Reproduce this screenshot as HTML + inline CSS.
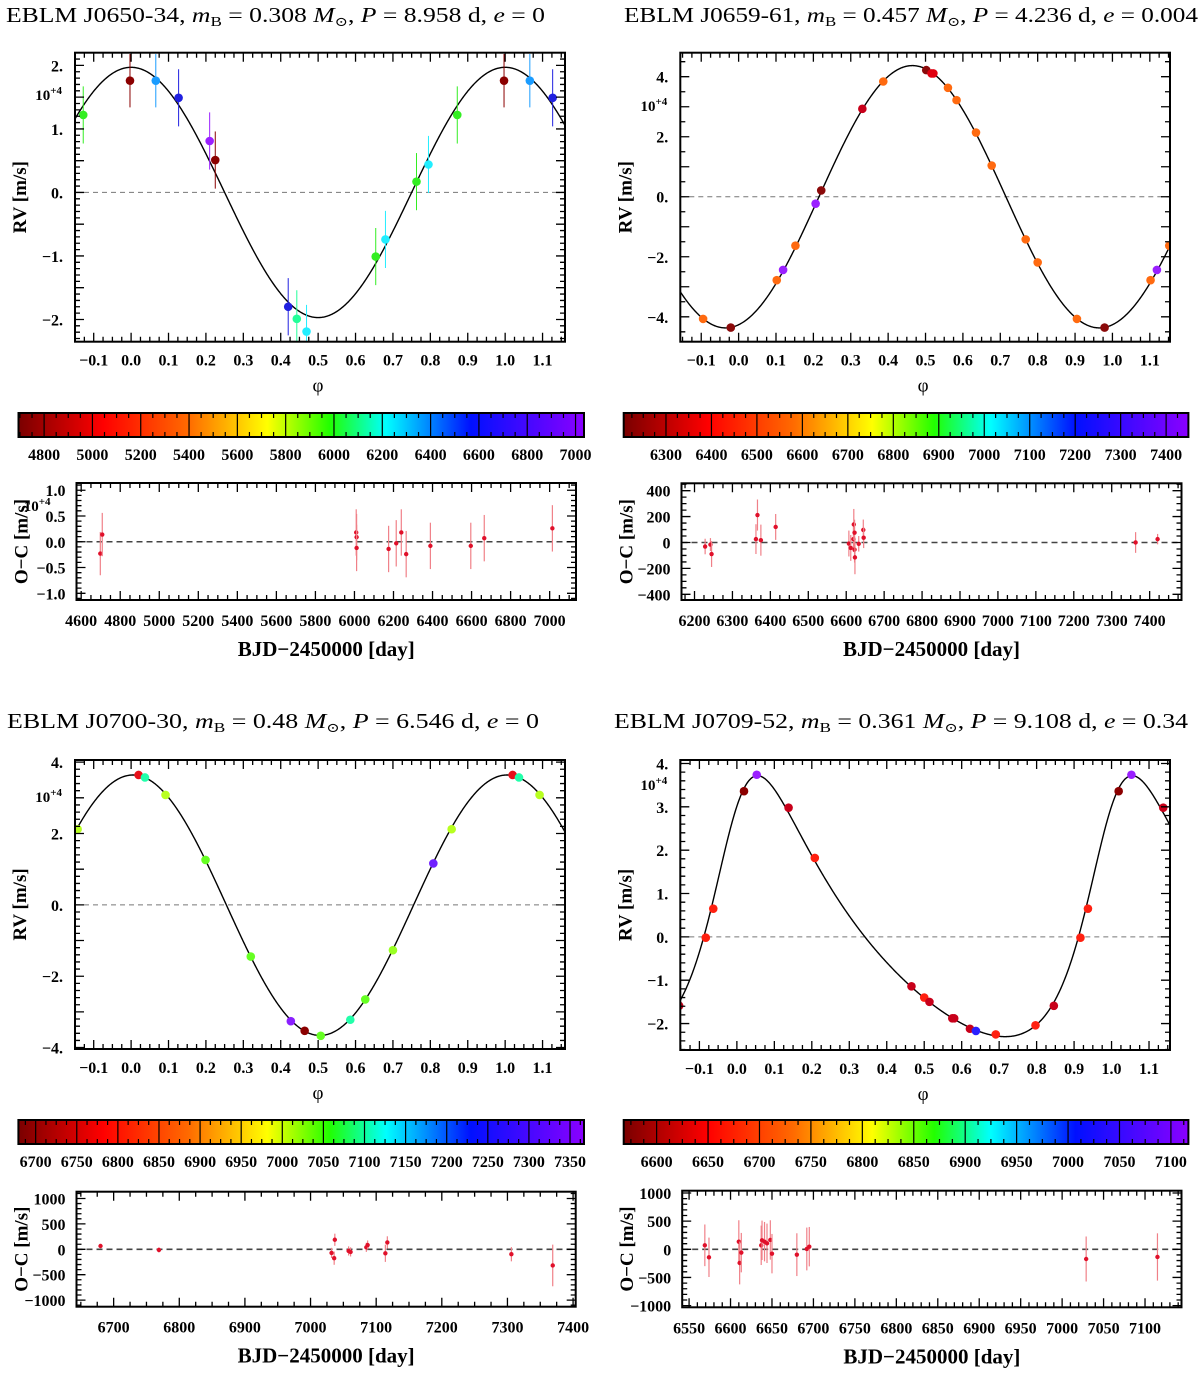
<!DOCTYPE html>
<html><head><meta charset="utf-8">
<style>
html,body{margin:0;padding:0;background:#fff;}
svg{display:block;font-family:"Liberation Serif","DejaVu Serif",serif;}
text{font-family:"Liberation Serif","DejaVu Serif",serif;}
</style></head>
<body>
<svg id="fig" width="1200" height="1374" viewBox="0 0 1200 1374" xmlns="http://www.w3.org/2000/svg">
<defs>
<linearGradient id="cmap" x1="0" x2="1" y1="0" y2="0">
<stop offset="0" stop-color="#7a0000"/><stop offset="0.15" stop-color="#ff0000"/><stop offset="0.3" stop-color="#ff6a00"/><stop offset="0.44" stop-color="#ffff00"/><stop offset="0.55" stop-color="#22ff00"/><stop offset="0.65" stop-color="#00ffff"/><stop offset="0.8" stop-color="#0010ff"/><stop offset="1" stop-color="#8a00ff"/>
</linearGradient>
</defs>
<text x="6" y="22" font-size="21" textLength="539" lengthAdjust="spacingAndGlyphs">EBLM J0650-34, <tspan font-style="italic">m</tspan><tspan dy="4" font-size="14">B</tspan><tspan dy="-4"> = 0.308 </tspan><tspan font-style="italic">M</tspan><tspan dy="4" font-size="13">⊙</tspan><tspan dy="-4">, </tspan><tspan font-style="italic">P</tspan> = 8.958 d, <tspan font-style="italic">e</tspan> = 0</text>
<text x="624" y="22" font-size="21" textLength="574" lengthAdjust="spacingAndGlyphs">EBLM J0659-61, <tspan font-style="italic">m</tspan><tspan dy="4" font-size="14">B</tspan><tspan dy="-4"> = 0.457 </tspan><tspan font-style="italic">M</tspan><tspan dy="4" font-size="13">⊙</tspan><tspan dy="-4">, </tspan><tspan font-style="italic">P</tspan> = 4.236 d, <tspan font-style="italic">e</tspan> = 0.004</text>
<text x="7" y="728" font-size="21" textLength="532" lengthAdjust="spacingAndGlyphs">EBLM J0700-30, <tspan font-style="italic">m</tspan><tspan dy="4" font-size="14">B</tspan><tspan dy="-4"> = 0.48 </tspan><tspan font-style="italic">M</tspan><tspan dy="4" font-size="13">⊙</tspan><tspan dy="-4">, </tspan><tspan font-style="italic">P</tspan> = 6.546 d, <tspan font-style="italic">e</tspan> = 0</text>
<text x="614" y="728" font-size="21" textLength="574" lengthAdjust="spacingAndGlyphs">EBLM J0709-52, <tspan font-style="italic">m</tspan><tspan dy="4" font-size="14">B</tspan><tspan dy="-4"> = 0.361 </tspan><tspan font-style="italic">M</tspan><tspan dy="4" font-size="13">⊙</tspan><tspan dy="-4">, </tspan><tspan font-style="italic">P</tspan> = 9.108 d, <tspan font-style="italic">e</tspan> = 0.34</text>
</svg>
<script>
// ---------- data ----------
const phaseTicks = [-0.1,0,0.1,0.2,0.3,0.4,0.5,0.6,0.7,0.8,0.9,1.0,1.1];
const phaseLabels = ['−0.1','0.0','0.1','0.2','0.3','0.4','0.5','0.6','0.7','0.8','0.9','1.0','1.1'];

const p1Phase = [0.997,0.066,0.127,0.21,0.225,0.42,0.443,0.469,0.654,0.68,0.763,0.795,0.872];
const p1RV    = [1.76,1.76,1.49,0.81,0.51,-1.80,-1.99,-2.19,-1.01,-0.74,0.17,0.44,1.22];
const p1Err   = [0.42,0.42,0.45,0.45,0.45,0.45,0.45,0.42,0.45,0.45,0.45,0.45,0.45];
const p1Color = ['#8b0000','#1a9cff','#2020e0','#9a20ff','#8b0000','#2020e0','#22ff99','#22eeff','#33ee22','#22eeff','#33ee22','#22eeff','#33ee22'];
const p1Model = [1.97, 0.0, 0.0];
const p1YTicks = [2,1,0,-1,-2];
const p1YLabels = ['2.','1.','0.','−1.','−2.'];

const p2Phase = [0.905,0.979,0.102,0.119,0.152,0.206,0.221,0.331,0.387,0.502,0.516,0.521,0.56,0.583,0.635,0.677,0.768,0.8];
const p2RV    = [-4.07,-4.36,-2.78,-2.44,-1.63,-0.23,0.21,2.93,3.84,4.22,4.11,4.11,3.63,3.22,2.14,1.04,-1.42,-2.19];
const p2Err   = [0.05,0.05,0.05,0.05,0.05,0.05,0.05,0.05,0.05,0.05,0.05,0.05,0.05,0.05,0.05,0.05,0.05,0.05];
const p2Color = ['#ff6a10','#8b0a0a','#ff6a10','#9a20ff','#ff6a10','#9a20ff','#8b0a0a','#c8001a','#ff6a10','#8b0a0a','#e00010','#e00010','#ff6a10','#ff6a10','#ff6a10','#ff6a10','#ff6a10','#ff6a10'];
const p2Model = [4.37, 0.465, 0.0];
const p2YTicks = [4,2,0,-2,-4];
const p2YLabels = ['4.','2.','0.','−2.','−4.'];

const p3Phase = [0.020,0.037,0.092,0.199,0.320,0.427,0.464,0.507,0.586,0.626,0.700,0.808,0.857];
const p3RV    = [3.64,3.57,3.08,1.26,-1.45,-3.26,-3.53,-3.67,-3.22,-2.65,-1.27,1.16,2.12];
const p3Err   = [0.05,0.05,0.05,0.05,0.05,0.05,0.05,0.05,0.05,0.05,0.05,0.05,0.05];
const p3Color = ['#e8101a','#22ffaa','#b8ff20','#66ff22','#66ff22','#8a20ff','#8b0000','#66ff22','#22ffaa','#66ff22','#99ff22','#7020ff','#b8ff20'];
const p3Model = [3.65, 0.005, -0.01];
const p3YTicks = [4,2,0,-2,-4];
const p3YLabels = ['4.','2.','0.','−2.','−4.'];

const p4Phase = [0.019,0.053,0.138,0.208,0.466,0.500,0.514,0.575,0.580,0.622,0.638,0.691,0.797,0.846,0.917,0.937];
const p4RV    = [3.36,3.74,2.98,1.82,-1.14,-1.40,-1.50,-1.88,-1.88,-2.12,-2.17,-2.25,-2.04,-1.59,-0.02,0.65];
const p4Err   = [0.05,0.05,0.05,0.05,0.05,0.05,0.05,0.05,0.05,0.05,0.05,0.05,0.05,0.05,0.05,0.05];
const p4Color = ['#8b0000','#9a20ff','#c8001a','#ff2010','#c8001a','#ff2010','#c8001a','#c8001a','#c8001a','#c8001a','#2a20ff','#ff2010','#ff2010','#c8001a','#ff2010','#ff2010'];
const p4Kep = [3.01, 0.34, 313, -0.009, 0.01];
const p4YTicks = [4,3,2,1,0,-1,-2];
const p4YLabels = ['4.','3.','2.','1.','0.','−1.','−2.'];

const oc1Day = [4698,4708,6009,6011,6011,6175,6214,6240,6265,6389,6596,6665,7014];
const oc1Val = [-0.23,0.14,0.18,0.09,-0.12,-0.14,-0.03,0.18,-0.24,-0.08,-0.08,0.07,0.26];
const oc1Err = [0.42,0.42,0.45,0.45,0.45,0.45,0.45,0.45,0.45,0.45,0.45,0.45,0.45];
const oc1XTicks = [4600,4800,5000,5200,5400,5600,5800,6000,6200,6400,6600,6800,7000];
const oc1YTicks = [1,0.5,0,-0.5,-1];
const oc1YLabels = ['1.0','0.5','0.0','−0.5','−1.0'];

const oc2Day = [6228,6242,6245,6362,6366,6375,6414,6607,6612,6619,6620,6622,6622,6623,6633,6645,6646,7363,7421];
const oc2Val = [-31,-16,-89,26,212,18,120,-8,-42,26,139,76,-55,-115,-10,97,37,0,26];
const oc2Err = [60,50,100,115,120,120,100,100,100,100,120,100,100,130,60,80,80,80,40];
const oc2XTicks = [6200,6300,6400,6500,6600,6700,6800,6900,7000,7100,7200,7300,7400];
const oc2YTicks = [400,200,0,-200,-400];
const oc2YLabels = ['400','200','0','−200','−400'];

const oc3Day = [6680,6769,7032,7036,7037,7058,7061,7085,7087,7114,7117,7306,7369];
const oc3Val = [65,-13,-71,-175,188,-32,-52,39,84,-78,136,-97,-318];
const oc3Err = [40,50,100,130,120,90,90,90,90,170,120,140,410];
const oc3XTicks = [6700,6800,6900,7000,7100,7200,7300,7400];
const oc3YTicks = [1000,500,0,-500,-1000];
const oc3YLabels = ['1000','500','0','−500','−1000'];

const oc4Day = [6569,6574,6610,6611,6613,6637,6638,6641,6644,6648,6650,6680,6692,6695,7029,7115];
const oc4Val = [71,-142,136,-243,-59,71,160,136,107,166,-77,-95,6,47,-172,-136];
const oc4Err = [370,350,380,380,350,350,350,350,350,350,350,380,380,350,400,420];
const oc4XTicks = [6550,6600,6650,6700,6750,6800,6850,6900,6950,7000,7050,7100];
const oc4YTicks = [1000,500,0,-500,-1000];
const oc4YLabels = ['1000','500','0','−500','−1000'];

const cb1Ticks = [4800,5000,5200,5400,5600,5800,6000,6200,6400,6600,6800,7000];
const cb2Ticks = [6300,6400,6500,6600,6700,6800,6900,7000,7100,7200,7300,7400];
const cb3Ticks = [6700,6750,6800,6850,6900,6950,7000,7050,7100,7150,7200,7250,7300,7350];
const cb4Ticks = [6600,6650,6700,6750,6800,6850,6900,6950,7000,7050,7100];

// ---------- drawing ----------
const NS = 'http://www.w3.org/2000/svg';
const svg = document.getElementById('fig');
function mk(tag, parent){ const e = document.createElementNS(NS, tag); (parent||svg).appendChild(e); return e; }
function att(e, o){ for (const k in o) e.setAttribute(k, o[k]); return e; }
let clipId = 0;

function ticksAll(g, b, xmin, xmax, xMaj, xMin, ymin, ymax, yMaj, yMin, L, l){
  const sx = v => b.x + (v - xmin) / (xmax - xmin) * b.w;
  const sy = v => b.y + (ymax - v) / (ymax - ymin) * b.h;
  let d = '';
  for (let i = Math.ceil(xmin / xMin - 1e-9); i * xMin <= xmax + 1e-9; i++) {
    const v = i * xMin, X = sx(v);
    const r = v / xMaj, len = Math.abs(r - Math.round(r)) < 1e-6 ? L : l;
    d += `M${X},${b.y + b.h}v${-len}M${X},${b.y}v${len}`;
  }
  for (let i = Math.ceil(ymin / yMin - 1e-9); i * yMin <= ymax + 1e-9; i++) {
    const v = i * yMin, Y = sy(v);
    const r = v / yMaj, len = Math.abs(r - Math.round(r)) < 1e-6 ? L : l;
    d += `M${b.x},${Y}h${len}M${b.x + b.w},${Y}h${-len}`;
  }
  const p = mk('path', g);
  att(p, {d: d, stroke: '#000', 'stroke-width': 1.3, fill: 'none'});
  
  
  const fr = mk('rect', g);
  att(fr, {x: b.x, y: b.y, width: b.w, height: b.h, fill: 'none', stroke: '#000', 'stroke-width': 2});
  
  
}

function txt(g, x, y, s, size, opts){
  const t = mk('text', g);
  att(t, {x: x, y: y, 'font-size': size});
  if (opts) att(t, opts);
  t.textContent = s;
  return t;
}

function keplerRV(ph, K, e, w, tp, gam){
  let M = 2 * Math.PI * (ph - tp);
  M = ((M % (2*Math.PI)) + 2*Math.PI) % (2*Math.PI);
  let E = M;
  for (let i = 0; i < 30; i++) E = E - (E - e*Math.sin(E) - M) / (1 - e*Math.cos(E));
  const nu = 2 * Math.atan2(Math.sqrt(1+e)*Math.sin(E/2), Math.sqrt(1-e)*Math.cos(E/2));
  const wr = w * Math.PI / 180;
  return gam + K * (Math.cos(nu + wr) + e * Math.cos(wr));
}

function drawRV(name, b, pmin, pmax, vmin, vmax, yMaj, yMin, yT, yL, ph, rv, er, col, model, expY){
  const g = mk('g');
  
  
  const sx = v => b.x + (v - pmin) / (pmax - pmin) * b.w;
  const sy = v => b.y + (vmax - v) / (vmax - vmin) * b.h;
  const cid = 'clip' + (clipId++);
  const cp = mk('clipPath', g); cp.setAttribute('id', cid);
  att(mk('rect', cp), {x: b.x, y: b.y, width: b.w, height: b.h});
  const inner = mk('g', g); inner.setAttribute('clip-path', `url(#${cid})`);
  const zl = mk('line', inner);
  att(zl, {x1: b.x, x2: b.x + b.w, y1: sy(0), y2: sy(0), stroke: '#777', 'stroke-width': 1, 'stroke-dasharray': '5,4'});
  
  
  let d = '';
  for (let i = 0; i <= 800; i++) {
    const p = pmin + (pmax - pmin) * i / 800;
    d += (i ? 'L' : 'M') + sx(p).toFixed(2) + ',' + sy(model(p)).toFixed(2);
  }
  const cv = mk('path', inner);
  att(cv, {d: d, fill: 'none', stroke: '#000', 'stroke-width': 1.4});
  
  
  for (let i = 0; i < ph.length; i++) {
    for (let k = -1; k <= 1; k++) {
      const p = ph[i] + k;
      if (p < pmin - 0.01 || p > pmax + 0.01) continue;
      const X = sx(p), Y = sy(rv[i]);
      const eb = mk('line', inner);
      att(eb, {x1: X, x2: X, y1: sy(rv[i] + er[i]), y2: sy(rv[i] - er[i]), stroke: col[i], 'stroke-width': 1});
      
      
      const c = mk('circle', inner);
      att(c, {cx: X, cy: Y, r: 4.3, fill: col[i]});
      
      
    }
  }
  ticksAll(g, b, pmin, pmax, 0.1, 0.025, vmin, vmax, yMaj, yMin, 9, 5);
  for (let i = 0; i < phaseTicks.length; i++) {
    const t = txt(g, sx(phaseTicks[i]), b.y + b.h + 24, phaseLabels[i], 16, {'font-weight': 'bold', 'text-anchor': 'middle'});
    
    
  }
  for (let i = 0; i < yT.length; i++) {
    const t = txt(g, b.x - 12, sy(yT[i]) + 6, yL[i], 16, {'font-weight': 'bold', 'text-anchor': 'end'});
    
    
  }
  const ex = txt(g, b.x - 13, expY, '', 15, {'font-weight': 'bold', 'text-anchor': 'end'});
  ex.innerHTML = '10<tspan dy="-6" font-size="11">+4</tspan>';
  
  
  const yl = txt(g, 0, 0, 'RV [m/s]', 19, {'font-weight': 'bold', 'text-anchor': 'middle', transform: `translate(${b.x - 49},${b.y + b.h/2}) rotate(-90)`});
  
  
  const xl = txt(g, b.x + b.w/2 - 2, b.y + b.h + 50, 'φ', 19, {'text-anchor': 'middle'});
  
  
}

function drawOC(name, b, dmin, dmax, vmin, vmax, xT, xMaj, xMin, yT, yL, yMaj, yMin, day, val, err, expTxt){
  const g = mk('g');
  
  
  const sx = v => b.x + (v - dmin) / (dmax - dmin) * b.w;
  const sy = v => b.y + (vmax - v) / (vmax - vmin) * b.h;
  const zl = mk('line', g);
  att(zl, {x1: b.x, x2: b.x + b.w, y1: sy(0), y2: sy(0), stroke: '#444', 'stroke-width': 1.6, 'stroke-dasharray': '6,4'});
  
  
  for (let i = 0; i < day.length; i++) {
    const X = sx(day[i]);
    const eb = mk('line', g);
    att(eb, {x1: X, x2: X, y1: sy(val[i] + err[i]), y2: sy(val[i] - err[i]), stroke: '#f08088', 'stroke-width': 1.2});
    
    
    const c = mk('circle', g);
    att(c, {cx: X, cy: sy(val[i]), r: 2.2, fill: '#e0102a'});
    
    
  }
  ticksAll(g, b, dmin, dmax, xMaj, xMin, vmin, vmax, yMaj, yMin, 9, 5);
  for (let i = 0; i < xT.length; i++) {
    const t = txt(g, sx(xT[i]), b.y + b.h + 26, String(xT[i]), 16, {'font-weight': 'bold', 'text-anchor': 'middle'});
    
    
  }
  for (let i = 0; i < yT.length; i++) {
    const t = txt(g, b.x - 11, sy(yT[i]) + 6, yL[i], 16, {'font-weight': 'bold', 'text-anchor': 'end'});
    
    
  }
  if (expTxt) {
    const ex = txt(g, b.x - 26, b.y + 28, '', 15, {'font-weight': 'bold', 'text-anchor': 'end'});
    ex.innerHTML = '10<tspan dy="-6" font-size="11">+4</tspan>';
    
    
  }
  const yl = txt(g, 0, 0, 'O−C [m/s]', 19, {'font-weight': 'bold', 'text-anchor': 'middle', transform: `translate(${b.x - 49},${b.y + b.h/2}) rotate(-90)`});
  
  
  const xl = txt(g, b.x + b.w/2, b.y + b.h + 56, 'BJD−2450000 [day]', 21, {'font-weight': 'bold', 'text-anchor': 'middle'});
  
  
}

function drawCB(name, b, tmin, tmax, ticks, minor){
  const g = mk('g');
  
  
  const sx = v => b.x + (v - tmin) / (tmax - tmin) * b.w;
  const r = mk('rect', g);
  att(r, {x: b.x, y: b.y, width: b.w, height: b.h, fill: 'url(#cmap)', stroke: '#000', 'stroke-width': 2});
  
  
  let d = '';
  for (let i = 0; i < ticks.length; i++) { const X = sx(ticks[i]); d += `M${X},${b.y}v${b.h}`; }
  for (let v = Math.ceil(tmin / minor) * minor; v <= tmax; v += minor) {
    const X = sx(v); d += `M${X},${b.y}v5M${X},${b.y + b.h}v-5`;
  }
  const p = mk('path', g);
  att(p, {d: d, stroke: '#000', 'stroke-width': 1.2});
  
  
  for (let i = 0; i < ticks.length; i++) {
    const t = txt(g, sx(ticks[i]), b.y + b.h + 23, String(ticks[i]), 16, {'font-weight': 'bold', 'text-anchor': 'middle'});
    
    
  }
}

drawRV('rv-panel-j0650', {x: 75, y: 52.7, w: 490, h: 289}, -0.150, 1.160, -2.35, 2.2, 0.5, 0.1, p1YTicks, p1YLabels,
  p1Phase, p1RV, p1Err, p1Color, p => p1Model[2] + p1Model[0] * Math.cos(2*Math.PI*(p - p1Model[1])), 100);
drawRV('rv-panel-j0659', {x: 680.3, y: 52.7, w: 489.7, h: 289}, -0.156, 1.154, -4.83, 4.8, 1, 0.5, p2YTicks, p2YLabels,
  p2Phase, p2RV, p2Err, p2Color, p => p2Model[2] + p2Model[0] * Math.cos(2*Math.PI*(p - p2Model[1])), 111);
drawRV('rv-panel-j0700', {x: 75, y: 760, w: 490, h: 289}, -0.150, 1.160, -4.04, 4.06, 1, 0.2, p3YTicks, p3YLabels,
  p3Phase, p3RV, p3Err, p3Color, p => p3Model[2] + p3Model[0] * Math.cos(2*Math.PI*(p - p3Model[1])), 802);
drawRV('rv-panel-j0709', {x: 680.3, y: 760, w: 489.7, h: 290}, -0.151, 1.156, -2.61, 4.08, 1, 0.2, p4YTicks, p4YLabels,
  p4Phase, p4RV, p4Err, p4Color, p => keplerRV(p, p4Kep[0], p4Kep[1], p4Kep[2], p4Kep[3], p4Kep[4]), 790);

drawCB('colorbar-j0650', {x: 18.5, y: 413, w: 565.5, h: 24}, 4694, 7035, cb1Ticks, 50);
drawCB('colorbar-j0659', {x: 623.7, y: 413, w: 564.7, h: 24}, 6207, 7449, cb2Ticks, 25);
drawCB('colorbar-j0700', {x: 18.4, y: 1120, w: 565.6, h: 24}, 6679, 7367, cb3Ticks, 12.5);
drawCB('colorbar-j0709', {x: 623.7, y: 1120, w: 564.7, h: 24}, 6568, 7117, cb4Ticks, 12.5);

drawOC('oc-panel-j0650', {x: 76.5, y: 483, w: 499.5, h: 117}, 4576, 7135, -1.13, 1.14, oc1XTicks, 200, 50, oc1YTicks, oc1YLabels, 0.5, 0.1, oc1Day, oc1Val, oc1Err, true);
drawOC('oc-panel-j0659', {x: 681.5, y: 483.3, w: 500, h: 116.7}, 6165.7, 7484, -444, 457, oc2XTicks, 100, 25, oc2YTicks, oc2YLabels, 200, 50, oc2Day, oc2Val, oc2Err, false);
drawOC('oc-panel-j0700', {x: 76.5, y: 1191.7, w: 499.2, h: 115}, 6643.4, 7404, -1130, 1134, oc3XTicks, 100, 25, oc3YTicks, oc3YLabels, 500, 100, oc3Day, oc3Val, oc3Err, false);
drawOC('oc-panel-j0709', {x: 682.2, y: 1190.7, w: 499.3, h: 116.6}, 6541.7, 7144, -1030, 1041, oc4XTicks, 50, 10, oc4YTicks, oc4YLabels, 500, 100, oc4Day, oc4Val, oc4Err, false);
</script>
</body></html>
